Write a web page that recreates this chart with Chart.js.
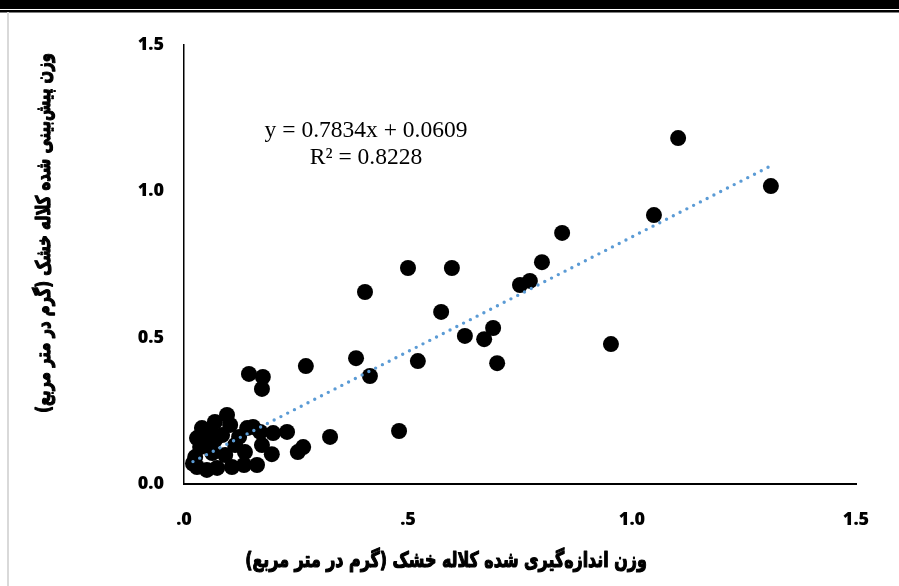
<!DOCTYPE html>
<html>
<head>
<meta charset="utf-8">
<script src="https://cdn.jsdelivr.net/npm/chart.js@4/dist/chart.umd.min.js"></script>
<style>
  html, body { margin: 0; padding: 0; background: #ffffff; }
  #wrap { width: 899px; height: 586px; position: relative; }
</style>
</head>
<body>
<div id="wrap"><canvas id="chart" width="899" height="586"></canvas></div>
<script>
// Measured dry stigma weight (g/m²) per sample
const measuredWeight = [
  0.096, 0.069, 0.040, 0.029, 0.025, 0.029, 0.051, 0.074, 0.107, 0.134,
  0.163, 0.136, 0.114, 0.092, 0.063, 0.047, 0.085, 0.123, 0.141, 0.154,
  0.170, 0.199, 0.230, 0.196, 0.254, 0.266, 0.058, 0.103, 0.020, 0.036,
  0.069, 0.174, 0.145, 0.176, 0.174, 0.272, 0.415, 0.384, 0.522, 0.699,
  0.326, 0.480, 0.500, 0.598, 0.404, 0.574, 0.690, 0.627, 0.670, 0.750,
  0.772, 0.799, 0.844, 0.953, 1.049, 1.103, 1.310
];
// Predicted dry stigma weight (g/m²) for the same samples
const predictedWeight = [
  0.236, 0.212, 0.191, 0.157, 0.092, 0.058, 0.048, 0.055, 0.058, 0.065,
  0.065, 0.109, 0.133, 0.099, 0.106, 0.143, 0.167, 0.161, 0.191, 0.195,
  0.178, 0.174, 0.178, 0.102, 0.109, 0.126, 0.178, 0.202, 0.070, 0.126,
  0.150, 0.133, 0.376, 0.366, 0.325, 0.403, 0.369, 0.430, 0.420, 0.413,
  0.161, 0.181, 0.738, 0.738, 0.656, 0.588, 0.533, 0.506, 0.495, 0.680,
  0.694, 0.758, 0.858, 0.478, 0.919, 1.182, 1.018
];

// Linear fit shown on the chart
const trendSlope = 0.7834;
const trendIntercept = 0.0609;
const trendRSquared = 0.8228;

const xTickValues = [0, 0.5, 1.0, 1.5];
const xTickLabels = ['.0', '.5', '1.0', '1.5'];
const yTickValues = [0, 0.5, 1.0, 1.5];
const yTickLabels = ['0.0', '0.5', '1.0', '1.5'];

const xTitle = 'وزن اندازه‌گیری شده کلاله خشک (گرم در متر مربع)';
const yTitle = 'وزن پیش‌بینی شده کلاله خشک (گرم در متر مربع)';

const points = measuredWeight.map((x, i) => ({ x: x, y: predictedWeight[i] }));
const xMin = Math.min(...measuredWeight);
const xMax = Math.max(...measuredWeight);
const trendPoints = [
  { x: xMin, y: trendSlope * xMin + trendIntercept },
  { x: xMax, y: trendSlope * xMax + trendIntercept }
];

function labelFor(values, labels, v) {
  const i = values.findIndex(t => Math.abs(t - v) < 1e-9);
  return i >= 0 ? labels[i] : '';
}

// Fit a font size so that the text spans the requested width
function fittedFont(ctx, text, targetWidth, family) {
  ctx.font = 'bold 20px ' + family;
  const w = ctx.measureText(text).width;
  const size = 20 * targetWidth / w;
  return 'bold ' + size.toFixed(2) + 'px ' + family;
}

// Heavy title text: taller glyphs plus a thin outline
function heavyText(ctx, text, x, y, stretch) {
  ctx.save();
  ctx.translate(x, y);
  ctx.scale(1, stretch);
  ctx.lineWidth = 0.9;
  ctx.strokeStyle = '#000000';
  ctx.lineJoin = 'round';
  ctx.strokeText(text, 0, 0);
  ctx.fillText(text, 0, 0);
  ctx.restore();
}

const decorations = {
  id: 'decorations',
  beforeDraw(chart) {
    const ctx = chart.ctx;
    ctx.save();
    ctx.fillStyle = '#ffffff';
    ctx.fillRect(0, 0, chart.width, chart.height);
    // page rules along the top
    ctx.fillStyle = '#000000';
    ctx.fillRect(0, 0, chart.width, 9);
    ctx.fillRect(0, 10, chart.width, 2.5);
    // faint frame line on the left
    ctx.fillStyle = '#d9d9d9';
    ctx.fillRect(7, 12, 2, chart.height - 12);
    ctx.restore();
  },
  afterDraw(chart) {
    const ctx = chart.ctx;
    ctx.save();
    // regression equation
    ctx.fillStyle = '#000000';
    ctx.textAlign = 'center';
    ctx.textBaseline = 'middle';
    ctx.font = '23.5px "Liberation Serif", "Times New Roman", serif';
    ctx.fillText('y = ' + trendSlope.toFixed(4) + 'x + ' + trendIntercept.toFixed(4), 366, 131);
    ctx.fillText('R² = ' + trendRSquared.toFixed(4), 366, 158);

    // axis titles
    ctx.direction = 'rtl';
    ctx.textAlign = 'center';
    ctx.font = fittedFont(ctx, xTitle, 402, '"DejaVu Sans"');
    heavyText(ctx, xTitle, 446, 561, 1.35);

    ctx.font = fittedFont(ctx, yTitle, 360, '"DejaVu Sans"');
    ctx.translate(45, 233);
    ctx.rotate(-Math.PI / 2);
    heavyText(ctx, yTitle, 0, 0, 1.35);
    ctx.restore();
  }
};

new Chart(document.getElementById('chart'), {
  type: 'scatter',
  data: {
    datasets: [
      {
        type: 'line',
        label: 'trend',
        data: trendPoints,
        borderColor: '#5b9bd5',
        borderWidth: 3.4,
        borderDash: [0, 7.6],
        borderCapStyle: 'round',
        pointRadius: 0,
        fill: false,
        order: 0
      },
      {
        label: 'samples',
        data: points,
        backgroundColor: '#000000',
        borderColor: '#000000',
        borderWidth: 0,
        pointRadius: 8,
        pointHoverRadius: 8,
        order: 1
      }
    ]
  },
  options: {
    responsive: false,
    animation: false,
    devicePixelRatio: 1,
    layout: { padding: { left: 0, right: 43, top: 45, bottom: 0 } },
    plugins: {
      legend: { display: false },
      tooltip: { enabled: false }
    },
    scales: {
      x: {
        type: 'linear',
        min: 0,
        max: 1.5,
        afterFit: s => { s.height = 102; },
        afterBuildTicks: s => { s.ticks = xTickValues.map(v => ({ value: v })); },
        grid: { drawOnChartArea: false, drawTicks: false },
        border: { display: true, color: '#000000', width: 2 },
        ticks: {
          padding: 25,
          color: '#000000',
          font: { family: '"Open Sans"', size: 18, weight: 800 },
          maxRotation: 0,
          callback: v => labelFor(xTickValues, xTickLabels, v)
        }
      },
      y: {
        type: 'linear',
        min: 0,
        max: 1.5,
        afterFit: s => { s.width = 184; },
        afterBuildTicks: s => { s.ticks = yTickValues.map(v => ({ value: v })); },
        grid: { drawOnChartArea: false, drawTicks: false },
        border: { display: true, color: '#000000', width: 1.5 },
        ticks: {
          padding: 20,
          color: '#000000',
          font: { family: '"Open Sans"', size: 18, weight: 800 },
          callback: v => labelFor(yTickValues, yTickLabels, v)
        }
      }
    }
  },
  plugins: [decorations]
});
</script>
</body>
</html>
